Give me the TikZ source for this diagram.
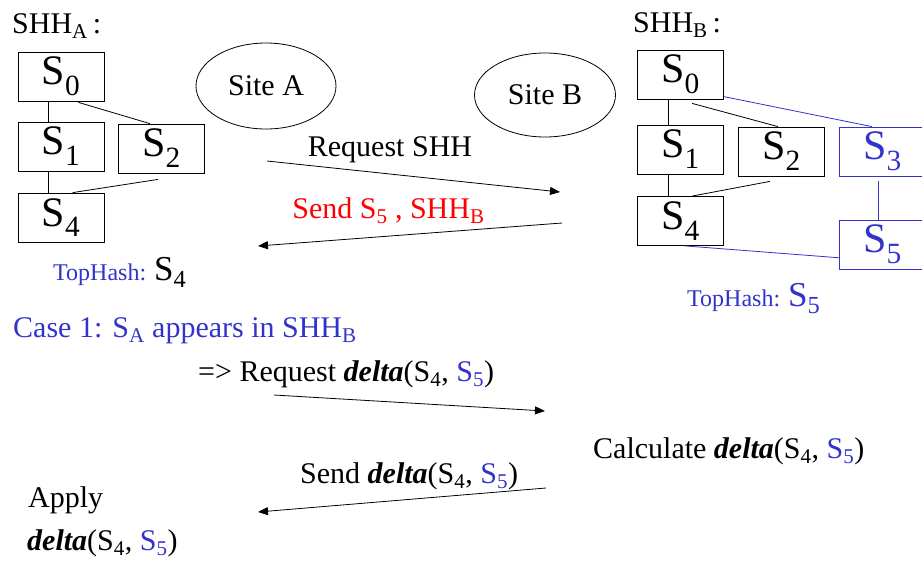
\documentclass[tikz,border=0pt]{standalone}
\usepackage{fontspec}
\setmainfont{Liberation Serif}
\usetikzlibrary{arrows.meta,shapes.geometric}
\definecolor{hashblue}{RGB}{51,51,204}
\definecolor{msgred}{RGB}{255,0,0}
\tikzset{
  slotbox/.style={draw, line width=0.8pt, minimum width=86pt, minimum height=49pt,
    inner sep=0pt, font=\fontsize{42}{42}\selectfont},
  newbox/.style={slotbox, draw=hashblue, text=hashblue},
  sitebox/.style={draw, ellipse, line width=0.8pt, inner sep=0pt,
    font=\fontsize{30}{30}\selectfont},
  treeln/.style={line width=0.8pt},
  newln/.style={treeln, hashblue},
  msgln/.style={-{Triangle[length=10pt,width=8pt]}, line width=0.8pt},
  txt/.style={inner sep=0pt, anchor=base west, font=\fontsize{30}{36}\selectfont},
  hashtxt/.style={txt, text=hashblue, font=\fontsize{24}{30}\selectfont},
}
\newcommand{\snp}[1]{S\textsubscript{#1}}
\newcommand{\dlt}{\textbf{\textit{delta}}}
\newcommand{\bsnp}[1]{{\color{hashblue}\snp{#1}}}

\begin{document}
\begin{tikzpicture}[x=1pt, y=-1pt]
    \useasboundingbox (0,0) rectangle (922,563);
    \clip (0,0) rectangle (922,563);
    % hash history of site A
    \node[txt] (hdrA) at (12,33) {SHH\textsubscript{A}\,:};
    \node[slotbox] (A0) at (61,76.5) {\snp{0}};
    \node[slotbox] (A1) at (61,146.5) {\snp{1}};
    \node[slotbox] (A2) at (161.5,148.5) {\snp{2}};
    \node[slotbox] (A4) at (61,217.5) {\snp{4}};
    \draw[treeln] (A0.-116) -- (A1.116);
    \draw[treeln] ([yshift=-1pt]A0.-55) -- (A2.115);
    \draw[treeln] (A1.-116) -- (A4.116);
    \draw[treeln] ([yshift=-6pt]A2.-98) -- (A4.65);
    \node[hashtxt] (topA) at (53,280)
      {TopHash: {\color{black}\fontsize{35}{36}\selectfont\snp{4}}};
    % the two sites
    \node[sitebox, minimum width=140pt, minimum height=86pt] (siteA) at (266,86) {Site A};
    \node[sitebox, minimum width=141pt, minimum height=84pt] (siteB) at (545,95) {Site B};
    % hash history of site B
    \node[txt] (hdrB) at (633,32) {SHH\textsubscript{B}\,:};
    \node[slotbox] (B0) at (680.5,74.5) {\snp{0}};
    \node[slotbox] (B1) at (680.5,149.5) {\snp{1}};
    \node[slotbox] (B2) at (781.5,151.5) {\snp{2}};
    \node[newbox] (B3) at (882.5,151.5) {\snp{3}};
    \node[slotbox] (B4) at (680.5,221) {\snp{4}};
    \node[newbox] (B5) at (882.5,244.5) {\snp{5}};
    \draw[treeln] (B0.-115) -- (B1.115);
    \draw[treeln] ([yshift=-4pt]B0.-65) -- (B2.98);
    \draw[newln] (B0.-27) -- (B3.113);
    \draw[treeln] (B1.-115) -- (B4.115);
    \draw[treeln] ([yshift=-5pt]B2.-115) -- (B4.65);
    \draw[newln] ([yshift=-5pt]B3.-100) -- (B5.100);
    \draw[newln] (B4.-80) -- (B5.197);
    \node[hashtxt] (topB) at (687,306)
      {TopHash: {\fontsize{35}{36}\selectfont\snp{5}}};
    % first exchange
    \coordinate (rqfrom) at (267,161);
    \coordinate (rqto) at (560,192);
    \coordinate (sdfrom) at (562,223);
    \coordinate (sdto) at (258,246);
    \draw[msgln] (rqfrom) -- (rqto);
    \draw[msgln] (sdfrom) -- (sdto);
    \node[txt, anchor=base] (rqlbl) at (390,156) {Request SHH};
    \node[txt, anchor=base, text=msgred] (sdlbl) at (388.5,218)
      {Send \snp{5} , SHH\textsubscript{B}};
    % case 1
    \node[txt, text=hashblue] (case) at (13,337)
      {Case 1: \snp{A} appears in SHH\textsubscript{B}};
    \node[txt] (rq2lbl) at (198,381) {=> Request \dlt(\snp{4}, \bsnp{5})};
    \coordinate (rq2from) at (274,395);
    \coordinate (rq2to) at (545,411);
    \draw[msgln] (rq2from) -- (rq2to);
    \node[txt] (calc) at (593,458) {Calculate \dlt(\snp{4}, \bsnp{5})};
    \node[txt] (sd2lbl) at (300,483) {Send \dlt(\snp{4}, \bsnp{5})};
    \coordinate (sd2from) at (546,488);
    \coordinate (sd2to) at (258,512);
    \draw[msgln] (sd2from) -- (sd2to);
    \node[txt] (apply) at (28,507) {Apply};
    \node[txt] (applyd) at (27,550) {\dlt(\snp{4}, \bsnp{5})};
\end{tikzpicture}
\end{document}
